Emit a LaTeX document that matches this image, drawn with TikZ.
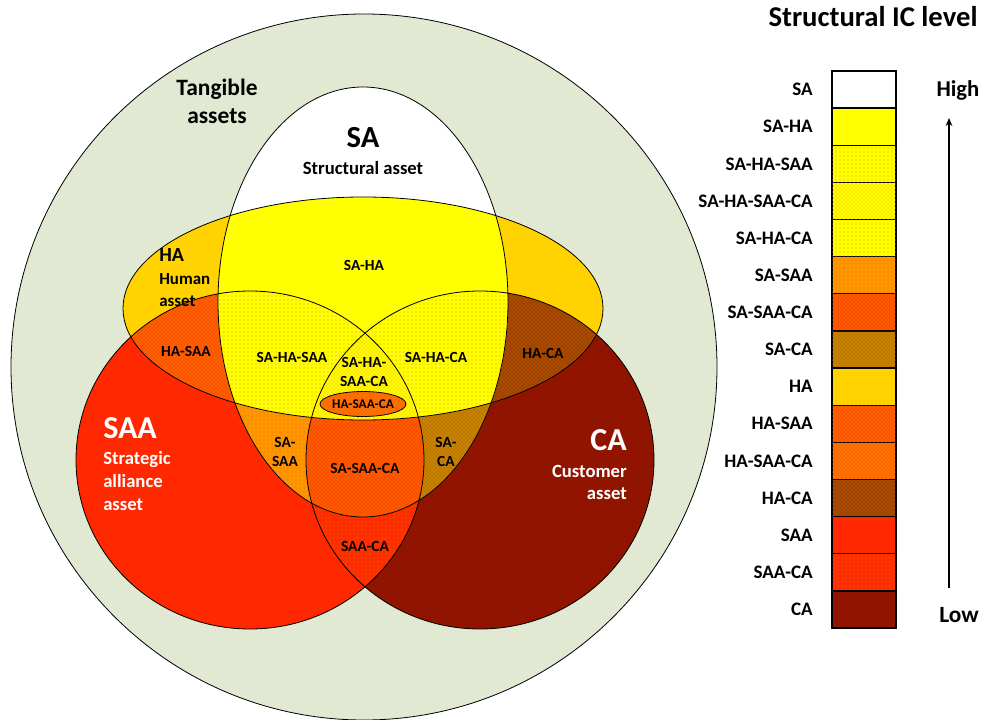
\documentclass[tikz,border=0pt]{standalone}
\usepackage{fontspec}
\setmainfont{Carlito}
\usetikzlibrary{positioning,patterns,arrows.meta}

\definecolor{tangibleC}{RGB}{225,233,210}
\definecolor{yellowC}{RGB}{255,255,0}
\definecolor{dotOrC}{RGB}{240,150,0}
\definecolor{haC}{RGB}{255,210,0}
\definecolor{saSaaC}{RGB}{255,150,0}
\definecolor{saSaaDotC}{RGB}{235,110,0}
\definecolor{saSaaCaC}{RGB}{255,90,0}
\definecolor{saSaaCaDotC}{RGB}{225,50,0}
\definecolor{saCaC}{RGB}{200,130,0}
\definecolor{saCaDotC}{RGB}{160,95,0}
\definecolor{haSaaC}{RGB}{255,95,0}
\definecolor{haSaaDotC}{RGB}{225,55,0}
\definecolor{haSaaCaC}{RGB}{255,115,0}
\definecolor{haSaaCaDotC}{RGB}{230,70,0}
\definecolor{haCaC}{RGB}{170,75,0}
\definecolor{haCaDotC}{RGB}{120,40,0}
\definecolor{saaC}{RGB}{255,40,0}
\definecolor{saaCaC}{RGB}{255,50,0}
\definecolor{saaCaDotC}{RGB}{205,30,0}
\definecolor{caC}{RGB}{145,20,0}

% the four sets
\def\bigPath{(364,367) circle [radius=353]}
\def\saPath{(363,302) ellipse [x radius=145, y radius=215]}
\def\haPath{(363,308.5) ellipse [x radius=240, y radius=111.5]}
\def\saaPath{(250,460) ellipse [x radius=174, y radius=169]}
\def\caPath{(480,460) ellipse [x radius=174, y radius=169]}

\begin{document}
\begin{tikzpicture}[x=0.75pt, y=-0.75pt,
    col SA/.style={fill=white},
    col SA-HA/.style={fill=yellowC},
    col SA-HA-SAA/.style={fill=yellowC, postaction={pattern=dots, pattern color=dotOrC}},
    col SA-HA-SAA-CA/.style={fill=yellowC, postaction={pattern=crosshatch dots, pattern color=dotOrC}},
    col SA-HA-CA/.style={fill=yellowC, postaction={pattern=dots, pattern color=dotOrC}},
    col SA-SAA/.style={fill=saSaaC, postaction={pattern=dots, pattern color=saSaaDotC}},
    col SA-SAA-CA/.style={fill=saSaaCaC, postaction={pattern=crosshatch dots, pattern color=saSaaCaDotC}},
    col SA-CA/.style={fill=saCaC, postaction={pattern=crosshatch dots, pattern color=saCaDotC}},
    col HA/.style={fill=haC},
    col HA-SAA/.style={fill=haSaaC, postaction={pattern=crosshatch dots, pattern color=haSaaDotC}},
    col HA-SAA-CA/.style={fill=haSaaCaC, postaction={pattern=crosshatch dots, pattern color=haSaaCaDotC}},
    col HA-CA/.style={fill=haCaC, postaction={pattern=crosshatch dots, pattern color=haCaDotC}},
    col SAA/.style={fill=saaC},
    col SAA-CA/.style={fill=saaCaC, postaction={pattern=dots, pattern color=saaCaDotC}},
    col CA/.style={fill=caC},
    vlab/.style={font=\bfseries\fontsize{11.6}{14.6}\selectfont, align=center, inner sep=0pt},
    smalllab/.style={font=\bfseries\fontsize{10}{12}\selectfont, inner sep=0pt},
    sublab/.style={font=\bfseries\fontsize{14}{17}\selectfont, inner sep=0pt},
    biglab/.style={font=\bfseries\fontsize{24}{28}\selectfont, inner sep=0pt},
    legtext/.style={font=\bfseries\fontsize{14.3}{17}\selectfont, inner sep=0pt, xshift=-14.25pt},
    legbox/.style={draw, line width=1pt, minimum width=48pt, minimum height=27.85pt,
      inner sep=0pt, outer sep=0pt},
    outline/.style={draw=black, line width=0.6pt}]

\fill[white] (0,0) rectangle (982,720);
\useasboundingbox (0,0) rectangle (982,720);

% tangible assets
\fill[tangibleC] \bigPath;

% single sets and their overlaps, from the bottom up
\fill[col SAA] \saaPath;
\fill[col CA] \caPath;
\begin{scope}
  \clip \saaPath;
  \fill[col SAA-CA] \caPath;
\end{scope}
\fill[col HA] \haPath;
\begin{scope}
  \clip \haPath;
  \fill[col HA-SAA] \saaPath;
  \fill[col HA-CA] \caPath;
\end{scope}
\fill[col SA] \saPath;
\begin{scope}
  \clip \saPath;
  \fill[col SA-HA] \haPath;
  \fill[col SA-SAA] \saaPath;
  \fill[col SA-CA] \caPath;
\end{scope}
\begin{scope}
  \clip \saPath;
  \clip \saaPath;
  \fill[col SA-SAA-CA] \caPath;
\end{scope}
\begin{scope}
  \clip \saPath;
  \clip \haPath;
  \fill[col SA-HA-SAA] \saaPath;
  \fill[col SA-HA-CA] \caPath;
\end{scope}
\begin{scope}
  \clip \saPath;
  \clip \haPath;
  \clip \saaPath;
  \fill[col SA-HA-SAA-CA] \caPath;
\end{scope}

% outlines
\draw[outline] \bigPath;
\draw[outline] \saaPath;
\draw[outline] \caPath;
\draw[outline] \haPath;
\draw[outline] \saPath;
\draw[outline, col HA-SAA-CA] (363,404) ellipse [x radius=43, y radius=12.5];

% set names
\node[font=\bfseries\fontsize{17.6}{21}\selectfont, align=center, inner sep=0pt] (tangible) at (217,101) {Tangible\\assets};
\node[font=\bfseries\fontsize{23}{27}\selectfont, inner sep=0pt] (saname) at (363,138) {SA};
\node[sublab] (sadesc) at (363,168) {Structural asset};
\node[font=\bfseries\fontsize{15}{18}\selectfont, inner sep=0pt, anchor=west] (haname) at (159,255) {HA};
\node[font=\bfseries\fontsize{12.7}{16.5}\selectfont, inner sep=0pt, align=left, anchor=west] (hadesc) at (159,290) {Human\\asset};
\node[biglab, white, anchor=west] (saaname) at (103,428) {SAA};
\node[sublab, white, align=left, anchor=west, font=\bfseries\fontsize{14}{17.25}\selectfont] (saadesc) at (103,481) {Strategic\\alliance\\asset};
\node[biglab, white, anchor=east] (caname) at (627,440) {CA};
\node[sublab, white, align=right, anchor=east, font=\bfseries\fontsize{14}{16.5}\selectfont] (cadesc) at (627,482) {Customer\\asset};

% region labels
\node[vlab] (tSAHA) at (364,265) {SA-HA};
\node[vlab] (tHASAA) at (186,351) {HA-SAA};
\node[vlab] (tSAHASAA) at (292,357) {SA-HA-SAA};
\node[vlab] (tSAHASAACA) at (364,372) {SA-HA-\\SAA-CA};
\node[vlab] (tSAHACA) at (436,357) {SA-HA-CA};
\node[vlab] (tHACA) at (543,353) {HA-CA};
\node[smalllab] (tHASAACA) at (363,404) {HA-SAA-CA};
\node[vlab] (tSASAA) at (285,452) {SA-\\SAA};
\node[vlab] (tSASAACA) at (365,468) {SA-SAA-CA};
\node[vlab] (tSACA) at (446,452) {SA-\\CA};
\node[vlab] (tSAACA) at (365,546) {SAA-CA};

% legend
\node[font=\bfseries\fontsize{21.5}{25}\selectfont, inner sep=0pt] (title) at (873,17) {Structural IC level};
\node[legbox, col SA, label={[legtext]left:SA}] (legSA) at (864,89.6) {};
\node[legbox, col SA-HA, below=0pt of legSA, label={[legtext]left:SA-HA}] (legSAHA) {};
\node[legbox, col SA-HA-SAA, below=0pt of legSAHA, label={[legtext]left:SA-HA-SAA}] (legSAHASAA) {};
\node[legbox, col SA-HA-SAA-CA, below=0pt of legSAHASAA, label={[legtext]left:SA-HA-SAA-CA}] (legSAHASAACA) {};
\node[legbox, col SA-HA-CA, below=0pt of legSAHASAACA, label={[legtext]left:SA-HA-CA}] (legSAHACA) {};
\node[legbox, col SA-SAA, below=0pt of legSAHACA, label={[legtext]left:SA-SAA}] (legSASAA) {};
\node[legbox, col SA-SAA-CA, below=0pt of legSASAA, label={[legtext]left:SA-SAA-CA}] (legSASAACA) {};
\node[legbox, col SA-CA, below=0pt of legSASAACA, label={[legtext]left:SA-CA}] (legSACA) {};
\node[legbox, col HA, below=0pt of legSACA, label={[legtext]left:HA}] (legHA) {};
\node[legbox, col HA-SAA, below=0pt of legHA, label={[legtext]left:HA-SAA}] (legHASAA) {};
\node[legbox, col HA-SAA-CA, below=0pt of legHASAA, label={[legtext]left:HA-SAA-CA}] (legHASAACA) {};
\node[legbox, col HA-CA, below=0pt of legHASAACA, label={[legtext]left:HA-CA}] (legHACA) {};
\node[legbox, col SAA, below=0pt of legHACA, label={[legtext]left:SAA}] (legSAA) {};
\node[legbox, col SAA-CA, below=0pt of legSAA, label={[legtext]left:SAA-CA}] (legSAACA) {};
\node[legbox, col CA, below=0pt of legSAACA, label={[legtext]left:CA}] (legCA) {};

\node[font=\bfseries\fontsize{17}{20}\selectfont, inner sep=0pt] (high) at (958,90) {High};
\node[font=\bfseries\fontsize{17.5}{20}\selectfont, inner sep=0pt] (low) at (959,615) {Low};
\coordinate (arrbot) at (949,588);
\coordinate (arrtop) at (949,118);
\draw[line width=0.8pt, -{Stealth[length=6pt, width=5pt]}] (arrbot) -- (arrtop);
\end{tikzpicture}
\end{document}
